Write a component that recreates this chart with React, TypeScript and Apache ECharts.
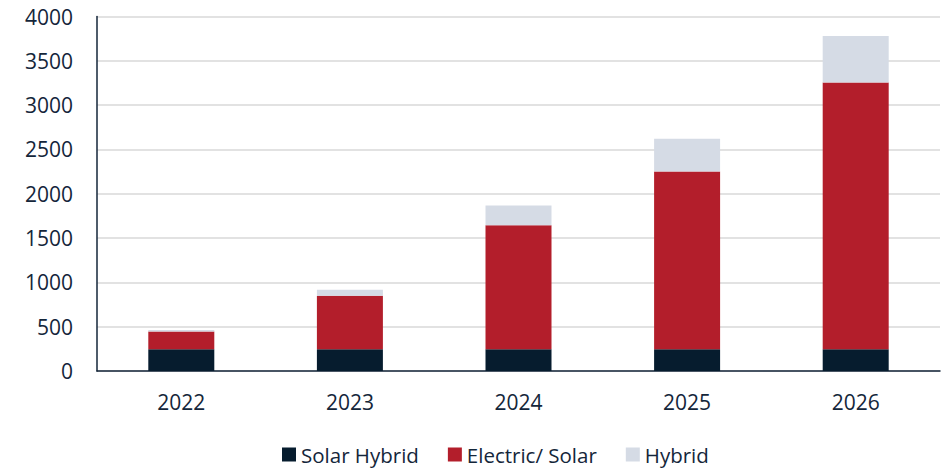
import React, { useEffect, useRef } from "react";
import * as echarts from "echarts";

const years = ["2022", "2023", "2024", "2025", "2026"];
const solarHybrid = [245, 245, 245, 245, 245];
const electricSolar = [200, 605, 1400, 2005, 3010];
const hybrid = [18, 68, 222, 370, 525];
const yTicks = { min: 0, max: 4000, interval: 500 };

const textColor = "#14263a";
const font = "'Open Sans', 'Noto Sans', sans-serif";

export default function App() {
  const ref = useRef<HTMLDivElement>(null);
  useEffect(() => {
    if (!ref.current) return;
    const chart = echarts.init(ref.current, undefined, { renderer: "svg" });
    chart.setOption({
      animation: false,
      backgroundColor: "#ffffff",
      grid: { left: 97, right: 7, top: 16.5, bottom: 99, containLabel: false },
      legend: {
        bottom: 0,
        left: 277,
        itemWidth: 14,
        itemHeight: 14,
        itemGap: 29,
        icon: "rect",
        textStyle: { color: textColor, fontSize: 20.5, fontFamily: font },
        data: ["Solar Hybrid", "Electric/ Solar", "Hybrid"],
      },
      xAxis: {
        type: "category",
        data: years,
        axisLine: { lineStyle: { color: textColor, width: 1.5 } },
        axisTick: { show: false },
        axisLabel: { color: textColor, fontSize: 21, fontFamily: font, margin: 20 },
      },
      yAxis: {
        type: "value",
        min: yTicks.min,
        max: yTicks.max,
        interval: yTicks.interval,
        axisLine: { show: true, lineStyle: { color: textColor, width: 1.5 } },
        axisTick: { show: false },
        splitLine: { lineStyle: { color: "#d9d9d9", width: 1.5 } },
        axisLabel: {
          color: textColor,
          fontSize: 21,
          fontFamily: font,
          margin: 24,
          formatter: (v: number) => String(v),
        },
      },
      series: [
        {
          name: "Solar Hybrid",
          type: "bar",
          stack: "total",
          barWidth: 66,
          data: solarHybrid,
          itemStyle: { color: "#061c2e" },
        },
        {
          name: "Electric/ Solar",
          type: "bar",
          stack: "total",
          barWidth: 66,
          data: electricSolar,
          itemStyle: { color: "#b31e2b" },
        },
        {
          name: "Hybrid",
          type: "bar",
          stack: "total",
          barWidth: 66,
          data: hybrid,
          itemStyle: { color: "#d5dbe5" },
        },
      ],
    });
    return () => chart.dispose();
  }, []);
  return (
    <div
      ref={ref}
      style={{ position: "fixed", left: 0, top: 0, width: 947, height: 470 }}
    />
  );
}
